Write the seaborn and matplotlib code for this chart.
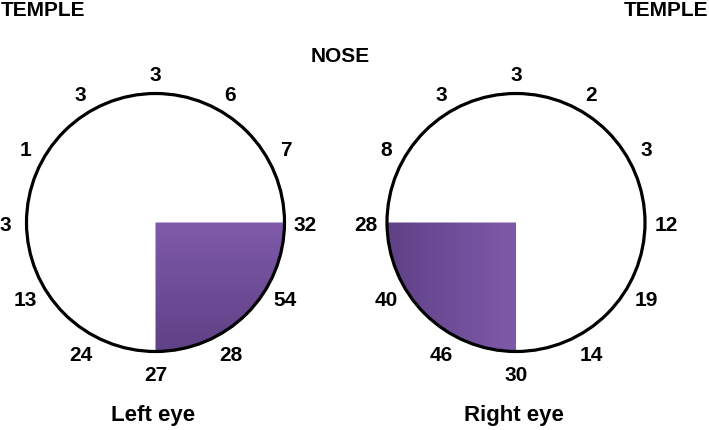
import numpy as np
import matplotlib
matplotlib.use("Agg")
import matplotlib.pyplot as plt
from matplotlib.patches import Circle, Wedge
import seaborn as sns

# ---- data (clockwise from 12 o'clock) ----
clock_positions = list(range(12))
left_counts = [3, 6, 7, 32, 54, 28, 27, 24, 13, 3, 1, 3]
right_counts = [3, 2, 3, 12, 19, 14, 30, 46, 40, 28, 8, 3]
left_shaded = (3, 6)   # clock positions of shaded quadrant
right_shaded = (6, 9)
eye_titles = ["Left eye", "Right eye"]
side_labels = ["TEMPLE", "NOSE", "TEMPLE"]

sns.set_theme(style="white")
plt.rcParams['font.family'] = ['Liberation Sans', 'DejaVu Sans']
plt.rcParams['text.color'] = 'black'

W, H = 709, 430
fig = plt.figure(figsize=(W / 100, H / 100), dpi=100)
ax = fig.add_axes([0, 0, 1, 1])
ax.set_xlim(0, W)
ax.set_ylim(0, H)
ax.set_axis_off()

R = 129
label_r = 150
dark = "#5f4186"
light = "#7f5aaa"
cmap = sns.blend_palette([dark, light], as_cmap=True)
FS = 15

eyes = [
    dict(cx=155.5, cy=H - 222.5, counts=left_counts, shaded=left_shaded, grad="vertical"),
    dict(cx=516.0, cy=H - 222.5, counts=right_counts, shaded=right_shaded, grad="horizontal"),
]

for eye, title in zip(eyes, eye_titles):
    cx, cy = eye["cx"], eye["cy"]
    p1, p2 = eye["shaded"]
    th2 = 90 - 30 * p1
    th1 = 90 - 30 * p2
    wedge = Wedge((cx, cy), R, th1, th2, facecolor="none", edgecolor="none")
    ax.add_patch(wedge)
    g = np.linspace(0, 1, 256)
    if eye["grad"] == "vertical":
        img = g[:, None] * np.ones((1, 2))
        ext = [cx - R, cx + R, cy - R, cy]
    else:
        img = np.ones((2, 1)) * g[None, :]
        ext = [cx - R, cx, cy - R, cy + R]
    im = ax.imshow(img, cmap=cmap, extent=ext, origin="lower", aspect="auto",
                   zorder=1, interpolation="bilinear")
    im.set_clip_path(wedge)
    ax.add_patch(Circle((cx, cy), R, facecolor="none", edgecolor="black", lw=2.3, zorder=3))
    for pos, val in zip(clock_positions, eye["counts"]):
        ang = np.deg2rad(90 - 30 * pos)
        x = cx + label_r * np.cos(ang)
        y = cy + label_r * np.sin(ang) - 3
        ax.text(x, y, str(val), ha="center", va="center", fontsize=FS,
                fontweight="bold", color="black", zorder=4)
    ax.text(cx - 2, H - 415, title, ha="center", va="center", fontsize=FS + 1,
            fontweight="bold", color="black")

ax.text(1, H - 11, side_labels[0], ha="left", va="center", fontsize=FS, fontweight="bold", color="black")
ax.text(340, H - 57, side_labels[1], ha="center", va="center", fontsize=FS, fontweight="bold", color="black")
ax.text(W - 1, H - 11, side_labels[2], ha="right", va="center", fontsize=FS, fontweight="bold", color="black")

fig.savefig("out.png", dpi=100, facecolor="white")
